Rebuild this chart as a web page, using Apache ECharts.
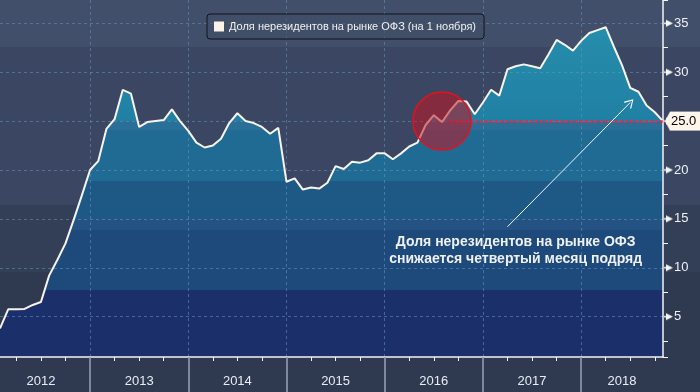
<!DOCTYPE html>
<html><head><meta charset="utf-8">
<script src="https://cdn.jsdelivr.net/npm/echarts@6/dist/echarts.min.js"></script>
<style>
html,body{margin:0;padding:0;background:#3b4762}
#c{width:700px;height:392px;background:linear-gradient(to bottom,#414f6a 0,#414f6a 47px,#3b4762 47px,#3b4762 205px,#333e57 205px,#333e57 272px,#2f3950 272px,#2f3950 392px)}
</style>
</head><body><div id="c"></div>
<script>
// Monthly observations, Feb 2012 .. Nov 2018 (1st of each month)
const firstMonth = [2012, 2];
const lastMonth = [2018, 11];
const months = [];
for (let y = firstMonth[0], m = firstMonth[1]; y < lastMonth[0] || (y === lastMonth[0] && m <= lastMonth[1]); ) {
  months.push(y + '-' + (m < 10 ? '0' + m : '' + m));
  m++; if (m > 12) { m = 1; y++; }
}
const seriesName = 'Доля нерезидентов на рынке ОФЗ (на 1 ноября)';
const share = [
  3.8, 5.75, 5.75, 5.8, 6.2, 6.5, 9.2, 10.8, 12.5, 14.9, 17.4,      // 2012 Feb-Dec
  20.0, 20.9, 24.2, 25.2, 28.2, 27.8, 24.4, 24.9, 25.0, 25.1, 26.2, 25.0, // 2013
  24.0, 22.8, 22.3, 22.5, 23.2, 24.8, 25.8, 25.0, 24.8, 24.4, 23.7, 24.3, // 2014
  18.8, 19.15, 18.0, 18.2, 18.1, 18.7, 20.4, 20.1, 20.85, 20.75, 21.0, 21.7, // 2015
  21.7, 21.1, 21.7, 22.4, 22.8, 24.6, 25.6, 24.9, 26.1, 27.05, 27.0, 25.7, // 2016
  26.9, 28.2, 27.6, 30.3, 30.6, 30.8, 30.6, 30.4, 31.8, 33.3, 32.8, 32.2, // 2017
  33.2, 34.0, 34.3, 34.6, 32.6, 30.7, 28.4, 28.0, 26.6, 25.9, 25.0        // 2018 Jan-Nov
];
const yearLabelMonths = ['2012-07','2013-07','2014-07','2015-07','2016-07','2017-07','2018-06'];
const yTicks = [5, 10, 15, 20, 25, 30, 35];
const lastValue = 25.0;
const highlightMonth = '2016-08';
const refLineFrom = '2016-09';
const arrowFrom = ['2017-04', 14.2];
const arrowTo = ['2018-07', 26.9];
const noteAt = ['2017-05', 11.8];
const noteText = 'Доля нерезидентов на рынке ОФЗ\nснижается четвертый месяц подряд';

const yMin = 0.88, yMax = 37.38;
const font = 'Liberation Sans';
const isJan = (i, v) => v.slice(5) === '01';
const isQuarter = (i, v) => ['04','07','10'].indexOf(v.slice(5)) >= 0;

// small triangle glyph images (decoration for axis ticks and value tag)
function tagTriangle(w, h, color) {
  const c = document.createElement('canvas');
  c.width = w; c.height = h;
  const g = c.getContext('2d');
  g.fillStyle = color;
  g.beginPath(); g.moveTo(w, 0); g.lineTo(0, h / 2); g.lineTo(w, h); g.closePath(); g.fill();
  return c;
}
function tickArrow(w, h, head, color) {
  const c = document.createElement('canvas');
  c.width = w; c.height = h;
  const g = c.getContext('2d');
  g.fillStyle = color;
  g.beginPath(); g.moveTo(0, h / 2 - 0.7); g.lineTo(w - head, h / 2 - 0.7); g.lineTo(w - head, 0);
  g.lineTo(w, h / 2); g.lineTo(w - head, h); g.lineTo(w - head, h / 2 + 0.7); g.lineTo(0, h / 2 + 0.7);
  g.closePath(); g.fill();
  return c;
}
const tickImg = tickArrow(9, 7, 7, '#f6f6f6');
const tagImg = tagTriangle(5, 19, '#fdf5ea');

const chart = echarts.init(document.getElementById('c'), null, {renderer: 'canvas'});
chart.setOption({
  animation: false,
  backgroundColor: 'transparent',
  textStyle: {fontFamily: font},
  grid: {left: 0, right: 37, top: 0, bottom: 35, containLabel: false},
  legend: {
    left: 207, top: 14, padding: [7, 8, 7, 7],
    backgroundColor: 'rgba(64,78,104,0.6)', borderColor: '#10131a', borderWidth: 1, borderRadius: 3,
    itemWidth: 10, itemHeight: 10, icon: 'rect',
    textStyle: {color: '#f2f2f2', fontSize: 11, fontFamily: font},
    data: [{name: seriesName, itemStyle: {color: '#fcf2e8'}}]
  },
  xAxis: [{
    type: 'category', data: months, boundaryGap: false, z: 2,
    axisLine: {show: true, lineStyle: {color: '#f4f4f4', width: 1.5}},
    axisTick: {show: true, interval: isQuarter, length: 4, lineStyle: {color: '#f4f4f4', width: 1}},
    axisLabel: {
      show: true, interval: (i, v) => yearLabelMonths.indexOf(v) >= 0,
      formatter: v => v.slice(0, 4), color: '#e8edf4', fontSize: 13, margin: 18, fontFamily: font
    },
    splitLine: {show: true, interval: isJan, lineStyle: {color: 'rgba(100,150,190,0.55)', type: [3, 3], width: 1}}
  }, {
    type: 'category', data: months, boundaryGap: false, position: 'bottom', z: 2,
    axisLine: {show: false},
    axisTick: {show: true, interval: isJan, length: 35, lineStyle: {color: '#9aa1b2', width: 1.5}},
    axisLabel: {show: false}, splitLine: {show: false}
  }],
  yAxis: [{
    type: 'value', position: 'right', min: yMin, max: yMax, splitNumber: 7, z: 2,
    axisLine: {show: true, lineStyle: {color: '#f4f4f4', width: 1.5}},
    axisTick: {show: false},
    axisLabel: {
      show: true, showMinLabel: false, showMaxLabel: false, margin: 1,
      formatter: v => yTicks.indexOf(v) >= 0 ? '{t| }{n|' + v + '}' : '',
      rich: {
        t: {backgroundColor: {image: tickImg}, width: 9, height: 7},
        n: {color: '#eef2f7', fontSize: 13, fontFamily: font, padding: [0, 0, 0, 1]}
      }
    },
    splitLine: {show: true, showMinLine: false, showMaxLine: false, lineStyle: {color: 'rgba(100,150,190,0.55)', type: [3, 3], width: 1}}
  }, {
    type: 'value', position: 'right', min: yMin + 2.5, max: yMax + 2.5, splitNumber: 7, z: 2,
    axisLine: {show: false},
    axisTick: {show: true, length: 5, lineStyle: {color: '#f4f4f4', width: 1}},
    axisLabel: {show: false}, splitLine: {show: false}
  }],
  series: [{
    type: 'line', data: share, z: 1, silent: true,
    symbol: 'none', lineStyle: {width: 0},
    areaStyle: {
      opacity: 1,
      color: {
        type: 'linear', x: 0, y: 0, x2: 0, y2: 357, global: true,
        colorStops: [
          {offset: 0, color: '#2891ae'}, {offset: 0.339, color: '#2080a4'},
          {offset: 0.339, color: '#2a6f97'}, {offset: 0.364, color: '#2a6f97'},
          {offset: 0.364, color: '#1f6b93'}, {offset: 0.507, color: '#1f6b93'},
          {offset: 0.507, color: '#1e5986'}, {offset: 0.616, color: '#1e5986'},
          {offset: 0.616, color: '#245282'}, {offset: 0.644, color: '#245282'},
          {offset: 0.644, color: '#1e4a7b'}, {offset: 0.812, color: '#1e4a7b'},
          {offset: 0.812, color: '#1b2f6a'}, {offset: 1, color: '#1b2f6a'}
        ]
      }
    }
  }, {
    name: seriesName, type: 'line', data: share, z: 3,
    symbol: 'none',
    itemStyle: {color: '#fcf2e8'},
    lineStyle: {color: '#f7f3ee', width: 2},
    markLine: {
      silent: true, symbol: 'none',
      data: [
        [{coord: [refLineFrom, lastValue], lineStyle: {color: '#ff1f3f', type: [2.5, 2.5], width: 2.5},
          label: {show: true, position: 'end', distance: 2, formatter: '{p| }{v|' + lastValue.toFixed(1) + '}',
            rich: {
              p: {backgroundColor: {image: tagImg}, width: 5, height: 19},
              v: {backgroundColor: '#fdf5ea', color: '#000', fontSize: 13, fontFamily: font,
                  height: 19, lineHeight: 19, padding: [0, 4, 0, 1]}
            }}},
         {coord: [months[months.length - 1], lastValue]}],
        [{coord: arrowFrom, symbol: 'none', lineStyle: {color: '#f0f4f8', width: 1, type: 'solid'}, label: {show: false}},
         {coord: arrowTo, symbol: 'path://M0,9 L5,0 L10,9 L9,10 L5,2.2 L1,10 Z', symbolSize: [10, 9]}]
      ]
    },
    markPoint: {
      silent: true,
      data: [
        {coord: [highlightMonth, lastValue], symbol: 'circle', symbolSize: 58,
          itemStyle: {color: 'rgba(195,20,35,0.55)', borderColor: '#e3121f', borderWidth: 1.5},
          label: {show: false}},
        {coord: noteAt, symbol: 'circle', symbolSize: 1, itemStyle: {color: 'rgba(0,0,0,0)'},
          label: {show: true, position: 'inside', formatter: noteText, color: '#eef0f3',
            fontSize: 14, fontWeight: 'bold', fontFamily: font, lineHeight: 17, align: 'center'}}
      ]
    }
  }]
});
</script>
</body></html>
